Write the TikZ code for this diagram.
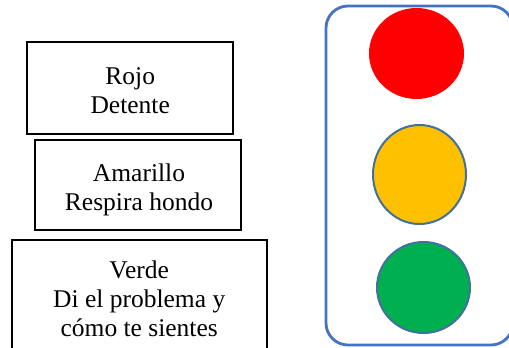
\documentclass[tikz,border=0pt]{standalone}
\usepackage{fontspec}
\setmainfont{Liberation Serif}
\definecolor{frameblue}{HTML}{4472C4}
\definecolor{lampedge}{HTML}{41719C}
\definecolor{lampred}{HTML}{FF0000}
\definecolor{lampyellow}{HTML}{FFC000}
\definecolor{lampgreen}{HTML}{00B050}
\tikzset{
  msgbox/.style={draw=black, line width=2pt, rectangle, inner sep=0pt},
  msgtext/.style={align=center, inner sep=0pt, font=\fontsize{25.5}{29}\selectfont},
  lamp/.style={ellipse, inner sep=0pt},
}
\usetikzlibrary{shapes.geometric}
\begin{document}
\begin{tikzpicture}[x=1pt,y=-1pt]
\useasboundingbox (0,0) rectangle (509,348);
\begin{scope}
\clip (0,0) rectangle (509,348);
% boxes
\node[msgbox, minimum width=205.7pt, minimum height=92.6pt] (b1) at (130.2,88) {};
\node[msgbox, minimum width=206pt, minimum height=90pt] (b2) at (138,185) {};
\node[msgbox, minimum width=255pt, minimum height=130pt] (b3) at (139.2,305) {};
% texts (base anchor = baseline of last line)
\node[msgtext, anchor=base] (t1) at (130.2,113.3) {Rojo\\Detente};
\node[msgtext, anchor=base] (t2) at (139,210) {Amarillo\\Respira hondo};
\node[msgtext, anchor=base] (t3) at (139.2,336) {Verde\\Di el problema y\\cómo te sientes};
% traffic light
\draw[frameblue, line width=2.8pt, rounded corners=22pt] (326,6) rectangle (513,345);
\node[lamp, fill=lampred, minimum width=95pt, minimum height=91pt] (red) at (416.5,53.5) {};
\node[lamp, fill=lampyellow, draw=lampedge, line width=2pt, minimum width=93pt, minimum height=99pt] (yellow) at (419.5,174.5) {};
\node[lamp, fill=lampgreen, draw=lampedge, line width=2pt, minimum width=93pt, minimum height=91pt] (green) at (423.5,287.5) {};
\end{scope}
\end{tikzpicture}
\end{document}
